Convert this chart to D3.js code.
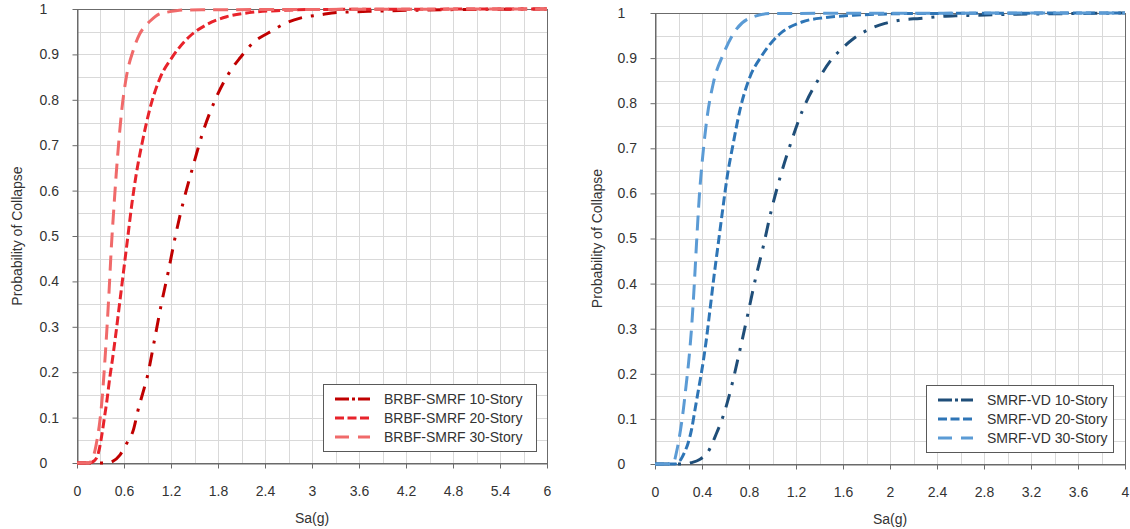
<!DOCTYPE html>
<html>
<head>
<meta charset="utf-8">
<script src="https://cdn.jsdelivr.net/npm/d3@7"></script>
<style>
  body { margin: 0; background: #fff; }
  svg text { font-family: "Liberation Sans", Arial, sans-serif; fill: #333; }
</style>
</head>
<body>
<svg id="chart" width="1130" height="529"></svg>
<script>
'use strict';

// ---- data ----
// left panel: BRBF-SMRF
var brbf10Sa = [0, 0.4, 0.45, 0.55, 0.634, 0.72, 0.78, 0.84, 0.9, 0.987, 1.072, 1.166, 1.255, 1.357, 1.477, 1.604, 1.762, 1.975, 2.08, 2.27, 2.44, 2.655, 2.85, 3.1, 3.32, 3.55, 3.76, 4.2, 5, 6];
var brbf10P  = [0, 0, 0.003, 0.018, 0.043, 0.073, 0.117, 0.154, 0.192, 0.269, 0.346, 0.422, 0.499, 0.575, 0.651, 0.727, 0.799, 0.868, 0.892, 0.929, 0.947, 0.968, 0.98, 0.987, 0.9925, 0.994, 0.995, 0.997, 0.999, 1];

var brbf20Sa = [0, 0.15, 0.22, 0.26, 0.29, 0.32, 0.35, 0.38, 0.42, 0.45, 0.5, 0.55, 0.6, 0.65, 0.7, 0.76, 0.84, 0.93, 1.06, 1.22, 1.44, 1.66, 1.91, 2.2, 2.63, 3.06, 6];
var brbf20P  = [0, 0, 0.005, 0.015, 0.035, 0.065, 0.1, 0.135, 0.19, 0.225, 0.29, 0.36, 0.43, 0.5, 0.57, 0.64, 0.712, 0.78, 0.848, 0.895, 0.94, 0.966, 0.983, 0.992, 0.997, 0.999, 1];

var brbf30Sa = [0, 0.15, 0.2, 0.23, 0.26, 0.29, 0.32, 0.35, 0.38, 0.41, 0.44, 0.47, 0.5, 0.53, 0.57, 0.63, 0.72, 0.8, 0.87, 0.93, 1.06, 1.15, 1.4, 6];
var brbf30P  = [0, 0, 0.01, 0.028, 0.055, 0.09, 0.14, 0.21, 0.29, 0.38, 0.48, 0.56, 0.635, 0.7, 0.775, 0.85, 0.91, 0.945, 0.962, 0.973, 0.99, 0.993, 0.998, 1];

// right panel: SMRF-VD
var vd10Sa = [0, 0.25, 0.31, 0.38, 0.454, 0.52, 0.573, 0.615, 0.655, 0.723, 0.789, 0.851, 0.922, 0.987, 1.064, 1.155, 1.257, 1.396, 1.502, 1.574, 1.688, 1.815, 1.957, 2.108, 2.255, 2.41, 2.567, 2.71, 3.02, 3.62, 4];
var vd10P  = [0, 0, 0.003, 0.01, 0.028, 0.066, 0.101, 0.136, 0.176, 0.253, 0.331, 0.406, 0.483, 0.559, 0.635, 0.711, 0.785, 0.855, 0.897, 0.917, 0.943, 0.963, 0.977, 0.985, 0.988, 0.992, 0.994, 0.995, 0.997, 0.999, 1];

var vd20Sa = [0, 0.17, 0.22, 0.25, 0.28, 0.31, 0.34, 0.37, 0.4, 0.434, 0.468, 0.502, 0.539, 0.576, 0.615, 0.666, 0.723, 0.803, 0.908, 1.064, 1.25, 1.45, 1.69, 1.97, 2.3, 4];
var vd20P  = [0, 0, 0.01, 0.025, 0.045, 0.075, 0.12, 0.165, 0.21, 0.27, 0.342, 0.416, 0.49, 0.564, 0.638, 0.711, 0.785, 0.855, 0.905, 0.954, 0.98, 0.99, 0.995, 0.998, 0.999, 1];

var vd30Sa = [0, 0.15, 0.19, 0.218, 0.241, 0.265, 0.284, 0.312, 0.335, 0.355, 0.377, 0.406, 0.44, 0.496, 0.585, 0.695, 0.809, 1.0, 4];
var vd30P  = [0, 0, 0.035, 0.077, 0.12, 0.175, 0.22, 0.305, 0.401, 0.497, 0.593, 0.682, 0.762, 0.844, 0.911, 0.965, 0.989, 0.999, 1];

// tick labels
var leftXTicks  = [0, 0.6, 1.2, 1.8, 2.4, 3, 3.6, 4.2, 4.8, 5.4, 6];
var rightXTicks = [0, 0.4, 0.8, 1.2, 1.6, 2, 2.4, 2.8, 3.2, 3.6, 4];
var yTicks      = [0, 0.1, 0.2, 0.3, 0.4, 0.5, 0.6, 0.7, 0.8, 0.9, 1];

var leftNames  = ['BRBF-SMRF 10-Story', 'BRBF-SMRF 20-Story', 'BRBF-SMRF 30-Story'];
var rightNames = ['SMRF-VD 10-Story', 'SMRF-VD 20-Story', 'SMRF-VD 30-Story'];

// ---- drawing ----
var svg = d3.select('#chart');

//dash styles: chart line / legend sample
var dashes = [
    { line: '14,9,3,9', legend: '14,3,3,3' },
    { line: '9,4',      legend: '9,3.5' },
    { line: '15,8',     legend: '14,9' }
];

function drawPanel(cfg) {
    var g = svg.append('g');

    var x = d3.scaleLinear().domain([0, cfg.xMax]).range([cfg.left, cfg.right]);
    var y = d3.scaleLinear().domain([0, 1]).range([cfg.bottom, cfg.top]);

    //gridlines
    g.append('g').selectAll('line')
        .data(d3.range(0, cfg.xMax + 1e-9, cfg.xMinor))
        .enter().append('line')
        .attr('x1', function(d){ return Math.round(x(d)) + 0.5; })
        .attr('x2', function(d){ return Math.round(x(d)) + 0.5; })
        .attr('y1', cfg.top).attr('y2', cfg.bottom)
        .attr('stroke', '#d9d9d9');
    g.append('g').selectAll('line')
        .data(d3.range(0, 1 + 1e-9, 0.05))
        .enter().append('line')
        .attr('y1', function(d){ return Math.round(y(d)) + 0.5; })
        .attr('y2', function(d){ return Math.round(y(d)) + 0.5; })
        .attr('x1', cfg.left).attr('x2', cfg.right)
        .attr('stroke', '#d9d9d9');

    //plot border
    g.append('rect')
        .attr('x', Math.round(cfg.left) + 0.5)
        .attr('y', Math.round(cfg.top) + 0.5)
        .attr('width', Math.round(cfg.right - cfg.left))
        .attr('height', Math.round(cfg.bottom - cfg.top))
        .attr('fill', 'none')
        .attr('stroke', '#6b6b6b');

    //axes
    var xAxis = g.append('g')
        .attr('transform', 'translate(0,' + (Math.round(cfg.bottom) + 0.5) + ')')
        .call(d3.axisBottom(x).tickValues(cfg.xTicks).tickSize(5).tickSizeOuter(0).tickFormat(d3.format('')));
    xAxis.selectAll('text').attr('y', 28).attr('dy', '0.35em');

    var yAxis = g.append('g')
        .attr('transform', 'translate(' + (Math.round(cfg.left) + 0.5) + ',0)')
        .call(d3.axisLeft(y).tickValues(yTicks).tickSize(5).tickSizeOuter(0).tickFormat(d3.format('')));
    yAxis.selectAll('text')
        .attr('x', cfg.yLabelX - cfg.left)
        .attr('text-anchor', 'start');

    [xAxis, yAxis].forEach(function(a){
        a.selectAll('path, line').attr('stroke', '#6b6b6b');
        a.selectAll('text').style('font-size', '14px').attr('fill', '#333');
    });

    //axis titles
    g.append('text')
        .attr('x', (cfg.left + cfg.right) / 2)
        .attr('y', cfg.bottom + 55)
        .attr('text-anchor', 'middle')
        .attr('dy', '0.35em')
        .style('font-size', '14px')
        .text('Sa(g)');
    g.append('text')
        .attr('transform', 'translate(' + cfg.yTitleX + ',' + ((cfg.top + cfg.bottom) / 2) + ') rotate(-90)')
        .attr('text-anchor', 'middle')
        .attr('dy', '0.35em')
        .style('font-size', '14px')
        .text('Probability of Collapse');

    //curves
    var line = d3.line()
        .x(function(d){ return x(d[0]); })
        .y(function(d){ return y(d[1]); })
        .curve(d3.curveMonotoneX);

    cfg.series.forEach(function(s, i){
        g.append('path')
            .datum(d3.zip(s.sa, s.p))
            .attr('d', line)
            .attr('fill', 'none')
            .attr('stroke', s.color)
            .attr('stroke-width', 3)
            .attr('stroke-dasharray', dashes[i].line);
    });

    //legend
    var lg = g.append('g').attr('transform', 'translate(' + cfg.legend[0] + ',' + cfg.legend[1] + ')');
    lg.append('rect')
        .attr('x', 0.5).attr('y', 0.5)
        .attr('width', cfg.legend[2]).attr('height', 67)
        .attr('fill', '#fff')
        .attr('stroke', '#595959');
    cfg.series.forEach(function(s, i){
        var ly = 15 + i * 19;
        lg.append('line')
            .attr('x1', 12).attr('x2', 47)
            .attr('y1', ly).attr('y2', ly)
            .attr('stroke', s.color)
            .attr('stroke-width', 3)
            .attr('stroke-dasharray', dashes[i].legend);
        lg.append('text')
            .attr('x', 61).attr('y', ly)
            .attr('dy', '0.35em')
            .style('font-size', '14px')
            .text(cfg.names[i]);
    });
}

drawPanel({
    left: 77, right: 547, top: 9, bottom: 463,
    xMax: 6, xMinor: 0.3, xTicks: leftXTicks,
    yLabelX: 39, yTitleX: 17,
    legend: [323, 384, 213],
    names: leftNames,
    series: [
        { sa: brbf10Sa, p: brbf10P, color: '#c00000' },
        { sa: brbf20Sa, p: brbf20P, color: '#e8232b' },
        { sa: brbf30Sa, p: brbf30P, color: '#f06a6a' }
    ]
});

drawPanel({
    left: 655, right: 1125, top: 13, bottom: 464,
    xMax: 4, xMinor: 0.2, xTicks: rightXTicks,
    yLabelX: 617, yTitleX: 597,
    legend: [926, 385, 187],
    names: rightNames,
    series: [
        { sa: vd10Sa, p: vd10P, color: '#1f4e79' },
        { sa: vd20Sa, p: vd20P, color: '#2e75b6' },
        { sa: vd30Sa, p: vd30P, color: '#5b9bd5' }
    ]
});
</script>
</body>
</html>
